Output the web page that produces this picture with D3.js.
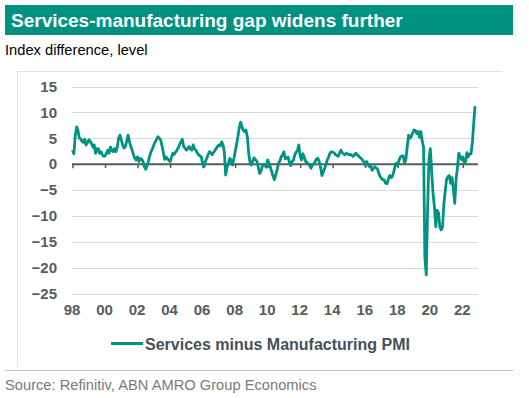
<!DOCTYPE html>
<html>
<head>
<meta charset="utf-8">
<script src="https://cdn.jsdelivr.net/npm/d3@7"></script>
<style>
  body { margin: 0; background: #fff; }
  svg { display: block; font-family: "Liberation Sans", Arial, sans-serif; }
</style>
</head>
<body>
<div id="chart"></div>
<script>
// Services PMI minus manufacturing PMI, monthly, first value = Jul 1998
const firstMonth = new Date(1998, 6, 1);
const gap1998 = [2.7, 2.0, 5.5, 7.2, 6.5, 5.0];
const gap1999 = [4.9, 4.4, 4.2, 4.8, 3.7, 4.1, 4.7, 4.4, 4.0, 3.3, 3.7, 2.1];
const gap2000 = [3.0, 3.0, 2.1, 2.4, 1.8, 1.5, 1.6, 2.1, 2.7, 2.1, 3.3, 2.6];
const gap2001 = [2.4, 3.0, 2.4, 3.2, 5.0, 5.6, 4.7, 3.7, 3.1, 3.4, 4.5, 5.6];
const gap2002 = [4.3, 3.4, 2.7, 1.8, 1.1, 0.8, 1.4, 0.5, 1.1, 1.0, 0.5, -0.5];
const gap2003 = [-1.0, -0.3, 0.5, 1.6, 2.4, 3.0, 3.7, 4.3, 4.8, 5.3, 5.0, 4.7];
const gap2004 = [3.5, 2.2, 0.9, 1.4, 1.0, 0.8, 0.5, 1.3, 2.1, 1.9, 2.3, 2.7];
const gap2005 = [3.2, 3.8, 4.3, 4.8, 3.4, 3.1, 2.7, 3.0, 3.4, 2.9, 2.7, 3.7];
const gap2006 = [3.0, 2.7, 2.2, 1.8, 1.6, 1.4, 0.2, -0.5, 0.5, 1.1, 1.8, 2.4];
const gap2007 = [2.2, 1.8, 2.2, 2.6, 3.0, 3.4, 3.7, 3.5, 4.3, 3.8, 2.4, -2.1];
const gap2008 = [-0.6, 0.1, 1.1, 0.8, -0.2, 1.0, 2.4, 3.8, 5.3, 7.0, 8.1, 7.2];
const gap2009 = [6.5, 6.3, 6.6, 5.3, 2.1, 0.3, -0.2, 0.6, 1.2, 0.8, 0.6, -0.5];
const gap2010 = [-1.8, -1.4, -0.5, 0.0, -0.3, -0.6, 0.8, 0.2, -0.6, -1.5, -2.4, -3.0];
const gap2011 = [-2.0, -1.0, 0.2, 0.6, 1.4, 1.8, 2.4, 1.0, 1.2, 1.4, 0.4, -0.3];
const gap2012 = [0.5, 0.8, 1.8, 2.3, 2.7, 3.7, 1.5, 0.8, 2.0, 1.3, 0.5, 0.3];
const gap2013 = [0.1, -0.3, -0.8, -0.2, 0.0, 0.5, 1.0, 1.1, 0.5, -0.6, -2.2, -1.6];
const gap2014 = [-0.8, 0.0, 0.8, 1.4, 2.1, 2.4, 2.3, 2.2, 1.8, 1.7, 1.5, 2.1];
const gap2015 = [2.7, 2.2, 2.0, 1.8, 2.1, 2.0, 1.8, 1.9, 1.7, 1.5, 1.8, 2.1];
const gap2016 = [1.8, 1.6, 1.3, 1.1, 0.8, 0.4, -0.2, 0.5, 0.0, -0.5, -0.2, -1.2];
const gap2017 = [-0.9, -0.5, -0.7, -0.9, -1.8, -2.4, -2.8, -3.0, -3.1, -3.7, -3.8, -3.0];
const gap2018 = [-2.2, -2.6, -2.4, -1.5, -0.5, 0.2, -0.2, 0.8, 1.4, 1.6, 1.6, 0.2];
const gap2019 = [1.0, 3.5, 5.6, 5.0, 5.3, 6.0, 6.6, 6.5, 5.9, 6.3, 5.2, 6.3];
const gap2020 = [4.5, 3.2, -18.0, -21.4, -9.0, 0.9, 3.0, -1.5, -5.7, -8.2, -12.1, -8.9];
const gap2021 = [-9.4, -12.2, -12.7, -12.2, -7.8, -5.2, -3.0, -2.4, -2.2, -3.7, -2.6, -4.9];
const gap2022 = [-7.6, -2.7, -0.9, 2.1, 1.5, 0.9, 1.4, 0.2, 0.5, 2.2, 1.4, 2.0];
const gap2023 = [2.0, 4.2, 7.7, 11.2];

const yTicks = [15, 10, 5, 0, -5, -10, -15, -20, -25];
const xTickYears = [1998, 2000, 2002, 2004, 2006, 2008, 2010, 2012, 2014, 2016, 2018, 2020, 2022];

const title = "Services-manufacturing gap widens further";
const subtitle = "Index difference, level";
const seriesName = "Services minus Manufacturing PMI";
const source = "Source: Refinitiv, ABN AMRO Group Economics";

var width = 529;
var height = 398;
var teal = "#009382";
var axisGrey = "#555c63";

var values = [].concat(gap1998, gap1999, gap2000, gap2001, gap2002, gap2003,
    gap2004, gap2005, gap2006, gap2007, gap2008, gap2009, gap2010, gap2011,
    gap2012, gap2013, gap2014, gap2015, gap2016, gap2017, gap2018, gap2019,
    gap2020, gap2021, gap2022, gap2023);

var data = values.map((v, i) => ({ date: d3.timeMonth.offset(firstMonth, i), value: v }));

var svg = d3.select("#chart").append("svg")
    .attr("width", width)
    .attr("height", height);

// header
svg.append("rect")
    .attr("x", 5).attr("y", 5)
    .attr("width", 508).attr("height", 30)
    .attr("fill", "#009181");

svg.append("text")
    .attr("x", 11).attr("y", 27)
    .attr("fill", "#fff")
    .style("font-size", "19px")
    .style("font-weight", "bold")
    .text(title);

svg.append("text")
    .attr("x", 5).attr("y", 55)
    .attr("fill", "#000")
    .style("font-size", "14.7px")
    .text(subtitle);

// chart area border (top + left only, as in the original)
svg.append("path")
    .attr("d", "M17.5,367V71.5H502")
    .attr("fill", "none")
    .attr("stroke", "#e3e3e3")
    .attr("stroke-width", 1);

var x = d3.scaleTime()
    .domain([firstMonth, data[data.length - 1].date])
    .range([72.5, 475]);

var y = d3.scaleLinear()
    .domain([-25, 15])
    .range([293.5, 86.5]);

// gridlines
svg.append("g")
    .attr("class", "grid")
    .selectAll("line")
    .data(yTicks.filter(d => d != 0))
    .join("line")
    .attr("x1", 72)
    .attr("x2", 478)
    .attr("y1", d => Math.round(y(d)) + 0.5)
    .attr("y2", d => Math.round(y(d)) + 0.5)
    .attr("stroke", "#d9d9d9")
    .attr("stroke-width", 1);

// y labels
var yAxis = svg.append("g")
    .attr("transform", "translate(72,0)")
    .call(d3.axisLeft(y).tickValues(yTicks).tickSize(0).tickPadding(15));
yAxis.select(".domain").remove();
yAxis.selectAll("text")
    .attr("fill", axisGrey)
    .style("font-size", "15px")
    .style("font-weight", "bold")
    .style("font-family", "'Liberation Sans', Arial, sans-serif");

// zero line with tick marks
var tickDates = xTickYears.map(yr => new Date(yr, 6, 1));
var zeroAxis = svg.append("g")
    .attr("transform", "translate(0," + y(0) + ")")
    .call(d3.axisBottom(x).tickValues(tickDates).tickSizeInner(4).tickSizeOuter(0).tickFormat(""));
zeroAxis.select(".domain")
    .attr("d", "M72,0H478")
    .attr("stroke", "#595959")
    .attr("stroke-width", 2);
zeroAxis.selectAll(".tick line")
    .attr("stroke", "#595959")
    .attr("stroke-width", 1.5);

// x labels below the plot
var xAxis = svg.append("g")
    .attr("transform", "translate(-1,304)")
    .call(d3.axisBottom(x).tickValues(tickDates).tickSize(0).tickPadding(0)
        .tickFormat(d3.timeFormat("%y")));
xAxis.select(".domain").remove();
xAxis.selectAll("text")
    .attr("fill", axisGrey)
    .attr("dy", "0.71em")
    .style("font-size", "15px")
    .style("font-weight", "bold")
    .style("font-family", "'Liberation Sans', Arial, sans-serif");

// series
var line = d3.line()
    .x(d => x(d.date))
    .y(d => y(d.value));

svg.append("path")
    .datum(data)
    .attr("fill", "none")
    .attr("stroke", teal)
    .attr("stroke-width", 2.8)
    .attr("stroke-linejoin", "round")
    .attr("d", line);

// legend
svg.append("line")
    .attr("x1", 111).attr("x2", 143)
    .attr("y1", 343.5).attr("y2", 343.5)
    .attr("stroke", teal)
    .attr("stroke-width", 3);

svg.append("text")
    .attr("x", 145).attr("y", 349.5)
    .attr("fill", "#465059")
    .style("font-size", "16px")
    .style("font-weight", "bold")
    .text(seriesName);

// footer
svg.append("line")
    .attr("x1", 5).attr("x2", 513)
    .attr("y1", 370.5).attr("y2", 370.5)
    .attr("stroke", "#bfbfbf")
    .attr("stroke-width", 1);

svg.append("text")
    .attr("x", 5).attr("y", 390)
    .attr("fill", "#7a7a7a")
    .style("font-size", "14.7px")
    .text(source);
</script>
</body>
</html>
